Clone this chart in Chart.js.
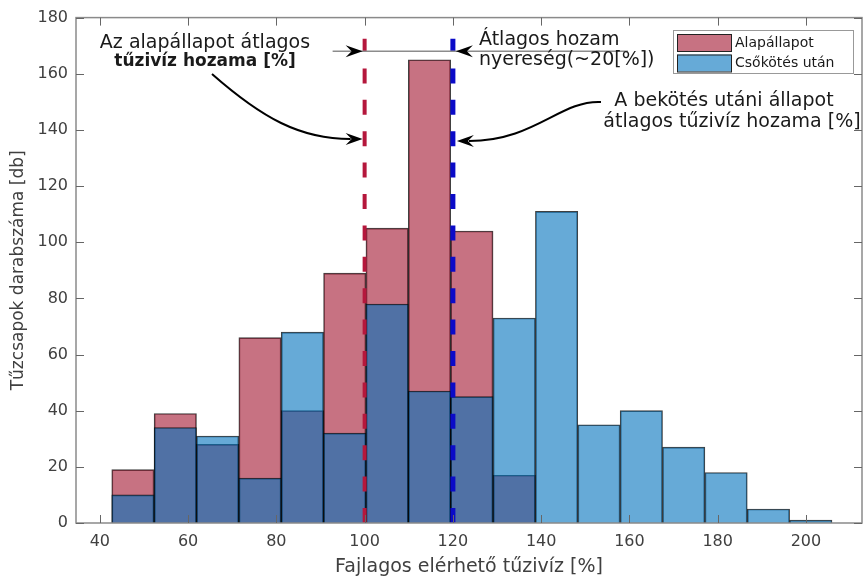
<!DOCTYPE html>
<html>
<head>
<meta charset="utf-8">
<script src="https://cdn.jsdelivr.net/npm/chart.js@4/dist/chart.umd.min.js"></script>
<style>
  html, body { margin: 0; padding: 0; background: #fff; }
</style>
</head>
<body>
<canvas id="histChart" width="867" height="579"></canvas>
<script>
// Tűzcsapok hozama - alapállapot vs. csőkötés után (hisztogram)

const binCenters = [47.5, 57.1, 66.7, 76.3, 85.9, 95.5, 105.1, 114.7, 124.3, 133.9, 143.5, 153.1, 162.7, 172.3, 181.9, 191.5, 201.1];
const baseCounts = [19, 39, 28, 66, 40, 89, 105, 165, 104, 17, null, null, null, null, null, null, null];
const afterCounts = [10, 34, 31, 16, 68, 32, 78, 47, 45, 73, 111, 35, 40, 27, 18, 5, 1];
const xTicks = [40, 60, 80, 100, 120, 140, 160, 180, 200];
const yTicks = [0, 20, 40, 60, 80, 100, 120, 140, 160, 180];
const baseMean = 100;
const afterMean = 120;
const gainLevel = 168;

const FONT = 'DejaVu Sans';
const TEXT = '#404040';
const AXIS = '#8a8a8a';

function toPoints(values) {
    return binCenters.map((c, i) => ({ x: c, y: values[i] }));
}

function dashedLine(ctx, x, top, bottom, color, width) {
    ctx.save();
    ctx.strokeStyle = color;
    ctx.lineWidth = width;
    ctx.setLineDash([15, 16.4]);
    ctx.beginPath();
    ctx.moveTo(x, bottom);
    ctx.lineTo(x, top);
    ctx.stroke();
    ctx.restore();
}

function arrowHead(ctx, tx, ty, angle) {
    const len = 17, half = 6, notch = 6;
    ctx.save();
    ctx.translate(tx, ty);
    ctx.rotate(angle);
    ctx.fillStyle = '#000';
    ctx.beginPath();
    ctx.moveTo(0, 0);
    ctx.lineTo(-len, -half);
    ctx.lineTo(-len + notch, 0);
    ctx.lineTo(-len, half);
    ctx.closePath();
    ctx.fill();
    ctx.restore();
}

const overlayPlugin = {
    id: 'overlay',
    afterDatasetsDraw(chart) {
        const { ctx, chartArea: a, scales: { x, y } } = chart;
        const top = y.getPixelForValue(172.5);
        dashedLine(ctx, x.getPixelForValue(baseMean), top, a.bottom, '#b5173c', 4);
        dashedLine(ctx, x.getPixelForValue(afterMean), top, a.bottom, '#0b0bc8', 5);
    },
    afterDraw(chart) {
        const { ctx, chartArea: a, scales: { x, y } } = chart;

        // axes box with inward ticks
        ctx.save();
        ctx.strokeStyle = AXIS;
        ctx.lineWidth = 1.5;
        ctx.strokeRect(a.left, a.top, a.right - a.left, a.bottom - a.top);
        ctx.lineWidth = 1;
        ctx.strokeStyle = '#666';
        xTicks.forEach(v => {
            const px = Math.round(x.getPixelForValue(v)) + 0.5;
            ctx.beginPath();
            ctx.moveTo(px, a.bottom); ctx.lineTo(px, a.bottom - 8);
            ctx.moveTo(px, a.top); ctx.lineTo(px, a.top + 8);
            ctx.stroke();
        });
        yTicks.forEach(v => {
            const py = Math.round(y.getPixelForValue(v)) + 0.5;
            ctx.beginPath();
            ctx.moveTo(a.left, py); ctx.lineTo(a.left + 8, py);
            ctx.moveTo(a.right, py); ctx.lineTo(a.right - 8, py);
            ctx.stroke();
        });
        ctx.restore();

        const xb = x.getPixelForValue(baseMean);
        const xa = x.getPixelForValue(afterMean);
        const yg = y.getPixelForValue(gainLevel);

        // gain line with arrows
        ctx.save();
        ctx.strokeStyle = '#8c8c8c';
        ctx.lineWidth = 1.5;
        ctx.beginPath();
        ctx.moveTo(xb - 32, yg);
        ctx.lineTo(xa + 175, yg);
        ctx.stroke();
        ctx.restore();
        arrowHead(ctx, xb - 2, yg, 0);
        arrowHead(ctx, xa + 3, yg, Math.PI);

        // curved arrows
        ctx.save();
        ctx.strokeStyle = '#000';
        ctx.lineWidth = 2;
        ctx.beginPath();
        ctx.moveTo(212, 74);
        ctx.bezierCurveTo(262, 118, 300, 139, xb - 14, 139);
        ctx.stroke();
        ctx.beginPath();
        ctx.moveTo(601, 102);
        ctx.bezierCurveTo(560, 100, 535, 141, xa + 16, 141);
        ctx.stroke();
        ctx.restore();
        arrowHead(ctx, xb - 2, 139, 0);
        arrowHead(ctx, xa + 4, 141, Math.PI);

        // annotation texts
        ctx.save();
        ctx.fillStyle = '#1a1a1a';
        ctx.textBaseline = 'alphabetic';
        ctx.font = '19px ' + FONT;
        ctx.textAlign = 'center';
        ctx.fillText('Az alapállapot átlagos', 205, 48);
        ctx.font = 'bold 17px ' + FONT;
        ctx.fillText('tűzivíz hozama [%]', 205, 66);
        ctx.font = '19px ' + FONT;
        ctx.textAlign = 'left';
        ctx.fillText('Átlagos hozam', 479, 45);
        ctx.fillText('nyereség(~20[%])', 479, 65);
        ctx.textAlign = 'center';
        ctx.fillText('A bekötés utáni állapot', 724, 106);
        ctx.fillText('átlagos tűzivíz hozama [%]', 732, 127);
        ctx.restore();

        // legend inside the axes
        const ds = chart.data.datasets;
        const order = [1, 0];
        ctx.save();
        ctx.fillStyle = '#fff';
        ctx.fillRect(673, 30, 180, 43);
        ctx.strokeStyle = '#999';
        ctx.lineWidth = 1;
        ctx.strokeRect(673.5, 30.5, 180, 43);
        ctx.font = '14px ' + FONT;
        ctx.textBaseline = 'middle';
        ctx.textAlign = 'left';
        order.forEach((idx, row) => {
            const top = 34 + row * 20.5;
            ctx.fillStyle = ds[idx].backgroundColor;
            ctx.fillRect(677, top, 54, 17);
            ctx.strokeStyle = '#222';
            ctx.strokeRect(677.5, top + 0.5, 54, 17);
            ctx.fillStyle = '#1a1a1a';
            ctx.fillText(ds[idx].label, 735, top + 9);
        });
        ctx.restore();
    }
};

new Chart(document.getElementById('histChart').getContext('2d'), {
    type: 'bar',
    data: {
        datasets: [
            {
                label: 'Csőkötés után',
                data: toPoints(afterCounts),
                backgroundColor: 'rgba(0, 114, 189, 0.6)',
                borderColor: 'rgba(0, 0, 0, 0.75)',
                borderWidth: 1,
                order: 0
            },
            {
                label: 'Alapállapot',
                data: toPoints(baseCounts),
                backgroundColor: 'rgba(162, 20, 47, 0.6)',
                borderColor: 'rgba(0, 0, 0, 0.75)',
                borderWidth: 1,
                order: 1
            }
        ]
    },
    options: {
        responsive: false,
        animation: false,
        grouped: false,
        barPercentage: 1,
        categoryPercentage: 1,
        layout: { padding: { top: 15, right: 5, left: 0, bottom: 0 } },
        plugins: {
            legend: { display: false },
            tooltip: { enabled: false }
        },
        scales: {
            x: {
                type: 'linear',
                offset: false,
                min: 34.6,
                max: 212.7,
                afterBuildTicks: axis => { axis.ticks = xTicks.map(v => ({ value: v })); },
                afterFit: axis => { axis.height = 56; },
                grid: { display: false, drawTicks: false },
                border: { display: false },
                ticks: { color: TEXT, font: { family: FONT, size: 16 }, padding: 9, maxRotation: 0 },
                title: {
                    display: true,
                    text: 'Fajlagos elérhető tűzivíz [%]',
                    color: TEXT,
                    font: { family: FONT, size: 19 },
                    padding: { top: 0, bottom: 1 }
                }
            },
            y: {
                min: 0,
                max: 180,
                afterBuildTicks: axis => { axis.ticks = yTicks.map(v => ({ value: v })); },
                afterFit: axis => { axis.width = 76; },
                grid: { display: false, drawTicks: false },
                border: { display: false },
                ticks: { color: TEXT, font: { family: FONT, size: 16 }, padding: 8 },
                title: {
                    display: true,
                    text: 'Tűzcsapok darabszáma [db]',
                    color: TEXT,
                    font: { family: FONT, size: 17 },
                    padding: { top: 8, bottom: 4 }
                }
            }
        }
    },
    plugins: [overlayPlugin]
});
</script>
</body>
</html>
